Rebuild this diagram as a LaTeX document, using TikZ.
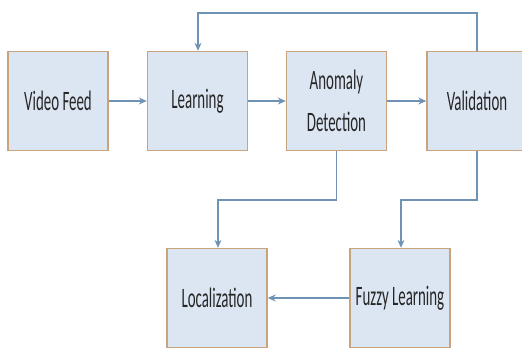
\documentclass[tikz,border=0pt]{standalone}
\usepackage{fontspec}
\setmainfont{Carlito}[FakeStretch=0.53]
\usepackage{xcolor}
\usetikzlibrary{arrows.meta,positioning,calc}
\definecolor{vdfill}{HTML}{DCE6F2}
\definecolor{vdedge}{HTML}{C9A27E}
\definecolor{vdline}{HTML}{6F93B5}
\tikzset{
  stage/.style={draw=vdedge, fill=vdfill, line width=0.8pt, minimum width=2cm,
    minimum height=1.98cm, align=center, inner sep=2pt, text=black!85,
    font=\fontsize{16}{24}\selectfont},
  flow/.style={-{Stealth[length=1.6mm,width=1.4mm]}, draw=vdline, line width=1.1pt},
}
\begin{document}
\begin{tikzpicture}[x=0.02cm,y=-0.02cm]
\useasboundingbox (0,0) rectangle (522,352);
\node[stage] (video) at (58,101) {Video Feed};
\node[stage] (learn) at (197.5,101) {Learning};
\node[stage] (anom) at (336.5,101) {Anomaly\\Detection};
\node[stage] (valid) at (477,101) {Validation};
\node[stage] (local) at (217,298) {Localization};
\node[stage] (fuzzy) at (400,298) {Fuzzy Learning};

\draw[flow] (video) -- (learn);
\draw[flow] (learn) -- (anom);
\draw[flow] (anom) -- (valid);
\draw[flow] (valid.north) |- (198,13) -- (learn.north -| 198,0);
\draw[flow] (anom.south) |- (218,200) -- (local.north -| 218,0);
\draw[flow] (valid.south) |- (401,200) -- (fuzzy.north -| 401,0);
\draw[flow] (fuzzy) -- (local);
\end{tikzpicture}
\end{document}
